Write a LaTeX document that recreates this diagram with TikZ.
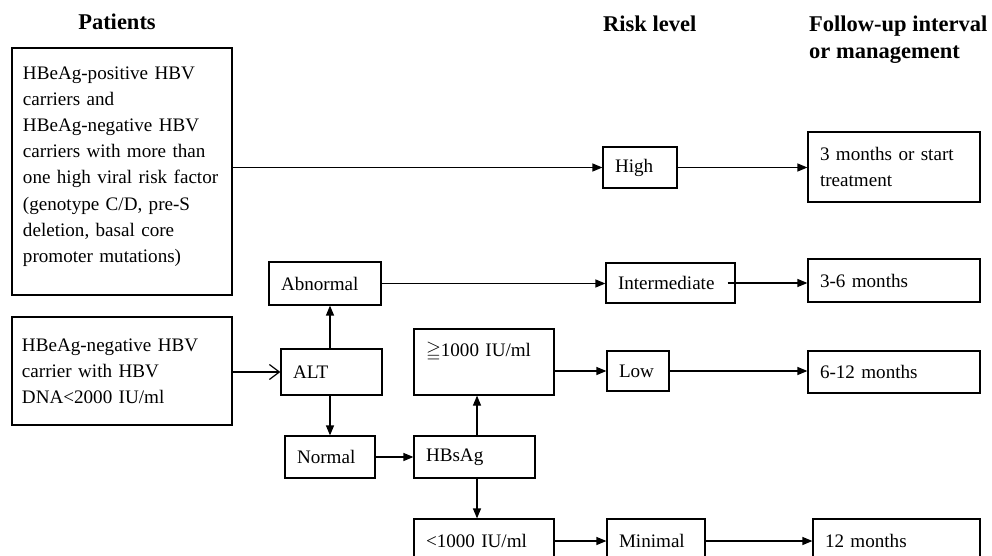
\documentclass[tikz,border=0pt]{standalone}
\usepackage{amssymb}
\usepackage{fontspec}
\setmainfont{Liberation Serif}
\usetikzlibrary{arrows.meta}
\newcommand\myboxfont{\fontsize{19.1bp}{26.2bp}\selectfont}
\tikzset{
  box/.style={draw, line width=1.2bp, inner xsep=12bp, inner ysep=0bp, align=left,
    font=\myboxfont, anchor=center},
  hdr/.style={font=\fontsize{22.5bp}{27bp}\selectfont\bfseries, inner sep=0pt},
  conn/.style={line width=1.2bp, -{Triangle[length=10bp,width=8bp]}},
  openconn/.style={line width=1.2bp, -{Straight Barb[length=10bp,width=15bp,line width=1.2bp]}}
}
\begin{document}
\begin{tikzpicture}[x=1bp,y=-1bp]
\clip (0,0) rectangle (992,556);
\fill[white] (0,0) rectangle (992,556);
% headers
\node[hdr, anchor=base] (h1) at (117,30) {Patients};
\node[hdr, anchor=base west] (h2) at (603,32) {Risk level};
\node[hdr, anchor=base west] (h3) at (809,32) {Follow-up interval};
\node[hdr, anchor=base west] (h4) at (809,59) {or management};
% patient boxes
\node[box, minimum width=220bp, minimum height=247bp, text width=204bp, inner xsep=8bp] (p1) at (122,171.5)
  {\hspace*{3bp}HBeAg-positive HBV\\\hspace*{3bp}carriers and\\\hspace*{3bp}HBeAg-negative HBV\\\hspace*{3bp}carriers with more than\\\hspace*{3bp}one high viral risk factor\\\hspace*{3bp}(genotype C/D, pre-S\\\hspace*{3bp}deletion, basal core\\\hspace*{3bp}promoter mutations)\\[-12bp]\mbox{}};
\node[box, minimum width=220bp, minimum height=108bp, text width=200bp, inner xsep=10bp] (p2) at (122,371)
  {HBeAg-negative HBV\\carrier with HBV\\DNA<2000 IU/ml};
% middle
\node[box, minimum width=112bp, minimum height=43bp, text width=88bp] (abn) at (325,283.5) {Abnormal};
\node[box, minimum width=101bp, minimum height=46bp, text width=77bp] (alt) at (331.5,372) {ALT};
\node[box, minimum width=90bp, minimum height=42bp, text width=66bp] (nor) at (330,457) {Normal};
\node[box, minimum width=140bp, minimum height=66bp, text width=116bp] (ge) at (484,362) {$\geqq$1000 IU/ml\\\mbox{}};
\node[box, minimum width=121bp, minimum height=42bp, text width=97bp] (hbs) at (474.5,457) {HBsAg};
\node[box, minimum width=140bp, minimum height=44bp, text width=116bp] (lt) at (484,541) {<1000 IU/ml};
% risk level
\node[box, minimum width=74bp, minimum height=41bp, text width=50bp] (high) at (640,167.5) {High};
\node[box, minimum width=129bp, minimum height=40bp, text width=105bp] (int) at (670.5,283) {Intermediate};
\node[box, minimum width=62bp, minimum height=40bp, text width=38bp] (low) at (638,371) {Low};
\node[box, minimum width=98bp, minimum height=44bp, text width=74bp] (min) at (656,541) {Minimal};
% follow-up
\node[box, minimum width=172bp, minimum height=70bp, text width=148bp] (m3) at (894,167) {3 months or start\\treatment};
\node[box, minimum width=172bp, minimum height=43bp, text width=148bp] (m36) at (894,280.5) {3-6 months};
\node[box, minimum width=172bp, minimum height=42bp, text width=148bp] (m612) at (894,372) {6-12 months};
\node[box, minimum width=167bp, minimum height=44bp, text width=143bp] (m12) at (896.5,541) {12 months};
% helper coordinates
\coordinate (altn) at ([xshift=-1.5bp]alt.north);
\coordinate (alts) at ([xshift=-1.5bp]alt.south);
\coordinate (hbsn) at ([xshift=2.5bp]hbs.north);
\coordinate (hbss) at ([xshift=2.5bp]hbs.south);
\coordinate (ints) at ([xshift=-8bp]int.east);
% connectors
\draw[conn] (p1.east |- high.west) -- (high.west);
\draw[conn] (high.east) -- (m3.west |- high.east);
\draw[conn] (abn.east) -- (int.west |- abn.east);
\draw[conn] (ints) -- (m36.west |- ints);
\draw[openconn] (p2.east |- alt.west) -- (alt.west);
\draw[conn] (altn) -- (abn.south -| altn);
\draw[conn] (alts) -- (nor.north -| alts);
\draw[conn] (nor.east) -- (hbs.west);
\draw[conn] (hbsn) -- (ge.south -| hbsn);
\draw[conn] (hbss) -- (lt.north -| hbss);
\draw[conn] (ge.east |- low.west) -- (low.west);
\draw[conn] (low.east) -- (m612.west |- low.east);
\draw[conn] (lt.east) -- (min.west);
\draw[conn] (min.east) -- (m12.west);
\end{tikzpicture}
\end{document}
